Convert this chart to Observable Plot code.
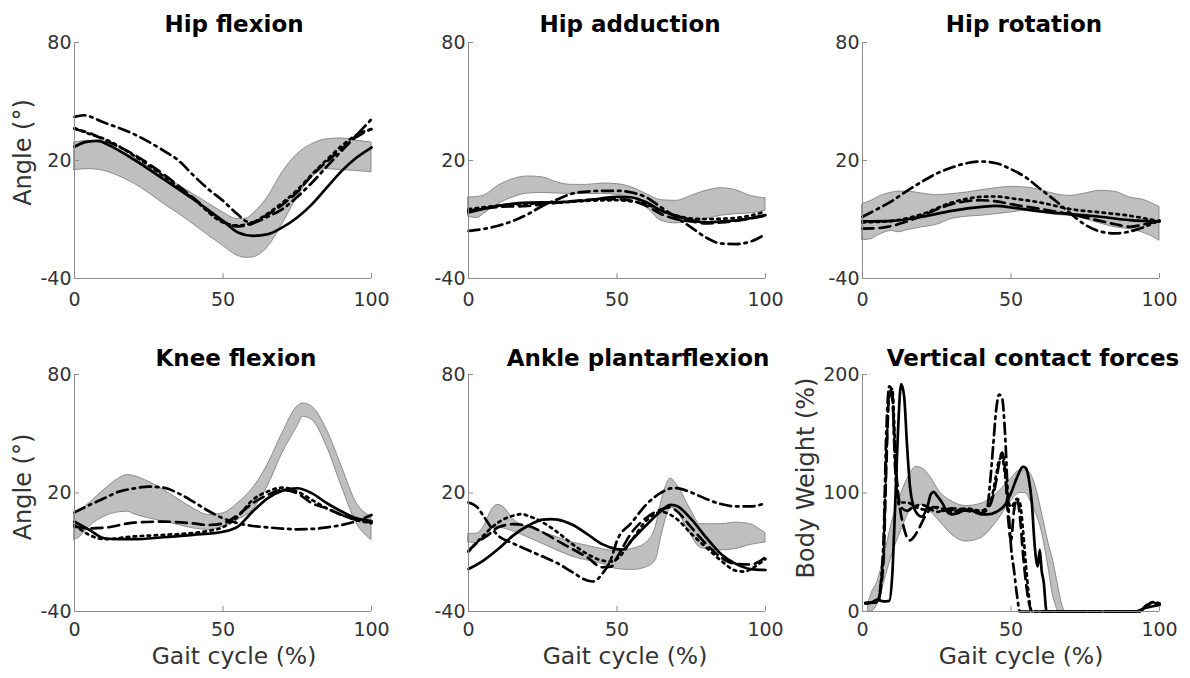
<!DOCTYPE html>
<html><head><meta charset="utf-8">
<script src="https://cdn.jsdelivr.net/npm/d3@7"></script>
<script src="https://cdn.jsdelivr.net/npm/@observablehq/plot@0.6"></script>
<style>
html,body{margin:0;padding:0;background:#fff;}
#chart{position:relative;width:1190px;height:678px;overflow:hidden;font-family:"DejaVu Sans",sans-serif;}
#chart svg{position:absolute;overflow:visible;}
</style></head><body><div id="chart"></div>
<script>
// ---------- Titles / labels ----------
const titles = ["Hip flexion","Hip adduction","Hip rotation","Knee flexion","Ankle plantarflexion","Vertical contact forces"];
const yLabels = ["Angle (°)","","","Angle (°)","","Body Weight (%)"];
const xLabel = "Gait cycle (%)";
const xTicks = [0, 50, 100];
const angleTicks = [-40, 20, 80];
const forceTicks = [0, 100, 200];

// ---------- Hip flexion ----------  band rows: [x, low, high]
const hipFlexBand = [[0,15.1,29.2],[5,15.6,30],[10,14.7,28.3],[15,12,25],[20,8.3,21.5],[25,3.5,17],[30,-2,12.2],[35,-7,7.5],[40,-12.4,2.9],[45,-18,-1.8],[50,-23.4,-6.4],[55,-28.5,-9.8],[58,-29.5,-9.5],[60,-29.3,-7.3],[65,-24.2,1.2],[70,-12.4,13.9],[75,1.2,23.2],[80,11.4,28.3],[85,15.6,30.8],[90,15.1,31.2],[95,14.7,30],[100,14,29.2]];
const hipFlexSolid = [[0,27],[4,29.5],[8,30],[12,27.5],[20,20.5],[30,10.5],[40,0.3],[50,-10.7],[55,-16.6],[60,-18.3],[65,-17.5],[70,-14],[75,-9],[80,-2.2],[85,6.3],[90,14.7],[95,21.5],[100,26.6]];
const hipFlexDashed = [[0,36],[5,34],[10,30.5],[20,23],[30,13],[40,1],[50,-11],[55,-13.5],[60,-12],[65,-7.5],[70,-2.5],[75,4],[80,12.5],[85,19.5],[90,26],[95,32],[100,36]];
const hipFlexDotted = [[0,36.5],[5,33.5],[10,31],[20,22.5],[30,12],[40,0.5],[50,-11.5],[55,-13],[60,-11.5],[65,-7],[70,-1.5],[75,5],[80,13],[85,20.5],[90,27.5],[95,33],[100,36]];
const hipFlexDashDot = [[0,42.2],[3,43],[10,39.3],[20,33.4],[30,25],[35,20],[40,12.5],[45,5.5],[50,-0.5],[55,-7.5],[58,-11],[60,-11.5],[65,-8.6],[70,-4.7],[75,1.5],[80,8.8],[85,17],[90,25],[95,33],[100,41]];

// ---------- Hip adduction ----------
const hipAddBand = [[0,-8.6,1.2],[3,-9.3,1.5],[5,-7.3,2],[10,-2.2,7.1],[15,1.2,10.5],[20,3.2,11.9],[25,3.5,11.4],[30,3.2,8.8],[35,3,7.6],[40,3,7.6],[45,3,8.3],[50,2.5,8],[55,1.2,6.3],[60,-3.9,2.9],[65,-10.7,-0.2],[70,-12,-0.5],[75,-10.7,2],[80,-9.8,4.6],[85,-8.1,5.9],[90,-7.3,4.9],[95,-6.9,2],[100,-5.6,0.8]];
const hipAddSolid = [[0,-6.4],[10,-3.1],[20,-1.4],[30,-1.2],[40,-0.2],[50,1.5],[55,1.2],[60,-1.4],[65,-5.6],[70,-8.1],[75,-10.3],[80,-11.5],[85,-11],[90,-10.5],[95,-9.3],[100,-7.8]];
const hipAddDashed = [[0,-5.6],[10,-3.6],[20,-3.1],[30,-1.4],[40,0],[45,0.3],[50,0.3],[55,-0.5],[60,-3.1],[65,-7.3],[70,-9.8],[75,-11],[80,-12],[85,-11.5],[90,-10.7],[95,-9.5],[100,-8.1]];
const hipAddDotted = [[0,-4.7],[10,-3],[20,-2],[30,-1.5],[40,-0.5],[50,-0.2],[55,-0.8],[60,-2.2],[65,-5.6],[70,-8],[75,-9.5],[80,-9.8],[85,-9.6],[90,-9.2],[95,-8],[100,-5.9]];
const hipAddDashDot = [[0,-15.8],[10,-13.2],[20,-7.3],[25,-3],[30,0.3],[35,3.2],[40,4.2],[45,4.6],[50,4.6],[55,3.7],[60,1.2],[65,-4],[70,-9],[75,-14],[80,-19.2],[85,-22.2],[90,-22.5],[95,-21.2],[100,-17.5]];

// ---------- Hip rotation ----------
const hipRotBand = [[0,-20.5,-2.2],[3,-20,-0.5],[5,-18.3,1.2],[10,-15.8,3.7],[12,-16.5,4.2],[15,-15.5,4.2],[20,-14,3.2],[25,-12.7,2.4],[30,-9.8,2.9],[35,-8.6,3.7],[40,-8.1,4.9],[45,-7.3,5.9],[50,-6.4,6.6],[55,-5.6,6.3],[60,-6.4,4.9],[65,-7.7,2.9],[70,-8.1,2],[75,-9.8,3.2],[80,-12,4.6],[85,-14,4.1],[90,-15,1.2],[95,-17,-0.2],[98,-19,-2.2],[100,-20.8,-3.6]];
const hipRotSolid = [[0,-11],[10,-10.7],[20,-8.6],[30,-5.6],[40,-3.6],[45,-3.1],[50,-3.9],[60,-5.9],[70,-7.3],[80,-8.6],[90,-10.3],[100,-11]];
const hipRotDashed = [[0,-14.6],[5,-14.4],[10,-13.2],[15,-11],[20,-8.1],[30,-2.2],[40,-0.2],[45,-0.8],[50,-2.2],[60,-4.7],[70,-7.3],[80,-10.7],[85,-12.4],[90,-13.7],[95,-12.4],[100,-10.7]];
const hipRotDotted = [[0,-11.5],[10,-10.7],[20,-7.3],[30,-1.4],[40,1.5],[45,1.7],[50,0.8],[60,-1.4],[70,-4.7],[80,-6.4],[90,-8.1],[100,-11]];
const hipRotDashDot = [[0,-8.6],[5,-4.7],[10,-0.5],[15,4.6],[20,9.2],[25,13.4],[30,16.4],[35,18.6],[40,19.5],[45,18.6],[50,15.6],[55,11.4],[60,5.4],[65,-0.5],[70,-6.9],[75,-12.7],[80,-16.1],[85,-17.1],[90,-16.1],[95,-13.7],[100,-10.5]];

// ---------- Knee flexion ----------
const kneeBand = [[0,-3.8,9.7],[2,-2,11.5],[5,2.9,14.8],[10,8,21.6],[15,10.2,27.4],[18,10.5,29.1],[20,9.3,28.6],[25,7.2,25.7],[30,5.5,21.6],[35,3.8,16.8],[40,2.1,12.2],[45,1.3,8.9],[50,3,9.7],[55,6.3,14.8],[60,11.4,22.3],[65,23.2,34.2],[70,40.1,50.2],[75,53.5,63.7],[77,58.6,65.3],[80,57,63.7],[85,43.4,51.9],[90,23.2,33.3],[95,4.6,14.8],[100,-3.8,8]];
const kneeSolid = [[0,5.5],[5,1.3],[10,-2.9],[15,-3.4],[20,-3.4],[30,-2.4],[40,-1.2],[50,0.4],[55,3],[60,10.6],[65,17.3],[70,21.2],[75,22.4],[80,19.8],[85,14.8],[90,10.6],[95,7.2],[100,5.8]];
const kneeDashed = [[0,3],[5,2.1],[10,2.4],[20,5],[30,5.5],[40,4.6],[45,3.8],[50,4.6],[55,8.9],[60,14.8],[65,19],[70,21.5],[75,19.8],[80,14.8],[85,12.2],[90,8.9],[95,6.3],[100,5.2]];
const kneeDotted = [[0,3.8],[5,-1.2],[10,-3.4],[20,-2],[30,-1.2],[40,-0.2],[45,0.8],[50,2.7],[55,8],[60,16.5],[65,20.7],[70,22.7],[75,20.7],[80,16.5],[85,12.2],[90,8.9],[95,6.3],[100,4.7]];
const kneeDashDot = [[0,10.2],[5,13.9],[10,17.3],[15,20.7],[20,22.3],[25,23.2],[30,22.7],[35,19.8],[40,15.6],[45,11],[50,7.2],[55,4.7],[60,3.3],[65,2.6],[70,2],[75,1.6],[80,1.8],[85,2.6],[90,3.8],[95,5.8],[100,8.9]];

// ---------- Ankle plantarflexion ----------
const ankleBand = [[0,-5,-0.8],[3,-5.3,-0.5],[5,-3.3,2.6],[8,1.8,11.8],[10,2.6,14],[12,2,12.6],[15,0.6,6.8],[20,-2.5,2.6],[25,-5.8,0.1],[30,-9.2,-2.5],[35,-12.2,-5],[40,-14.2,-6.7],[45,-15.9,-8.4],[50,-18.5,-9.5],[55,-19,-8.4],[60,-17.6,-5],[63,-14.2,2.6],[65,-1.6,16],[67,9.4,25.3],[68,12.7,27.3],[70,11,24.5],[75,-1.6,11],[78,-7.6,4.2],[80,-8.4,4.2],[85,-9,4.2],[90,-8.4,5],[95,-6.3,4.2],[98,-5.5,1.7],[100,-5,-0.3]];
const ankleSolid = [[0,-18.5],[5,-14.2],[10,-8.4],[15,-1.6],[20,3.4],[25,6.5],[28,6.8],[30,6.5],[35,3.9],[40,-0.8],[45,-5.9],[50,-8.4],[52,-8.6],[55,-3.8],[60,3.9],[65,11],[68,14],[70,13.5],[75,6.8],[80,-2.5],[85,-10.9],[90,-15.9],[95,-18.5],[100,-19]];
const ankleDashed = [[0,-9.2],[3,-5],[7,-0.8],[10,2.6],[15,4.2],[20,3.4],[25,0.1],[30,-4.2],[35,-8.4],[40,-12.6],[45,-17.6],[48,-17.3],[50,-12.6],[55,0.1],[60,7.6],[65,11.8],[68,12.7],[70,11],[75,2.6],[80,-5.8],[85,-12.6],[90,-15.9],[95,-16.2],[100,-12.6]];
const ankleDotted = [[0,-9.7],[5,-1.6],[10,5.1],[15,8.5],[18,9.3],[20,8.5],[25,5.1],[30,0.1],[35,-5.9],[40,-10.9],[45,-14.2],[48,-14.7],[50,-13.4],[55,-3.8],[60,6.2],[65,10.4],[70,7],[75,-0.6],[80,-7.5],[85,-14.2],[90,-19.3],[93,-19.8],[95,-18.5],[100,-13.4]];
const ankleDashDot = [[0,15.2],[3,12.7],[5,8.5],[8,1.8],[10,-1.6],[15,-5.5],[20,-8.9],[25,-12.2],[30,-15.6],[35,-20.1],[40,-24.3],[42,-24.8],[45,-21],[48,-13.4],[50,-4.2],[55,5.1],[60,14.4],[65,20.3],[68,22.3],[70,22.5],[75,20.3],[80,17],[85,14.4],[90,13.2],[95,13.2],[100,14.9]];

// ---------- Vertical contact forces ----------
const forceBand = [[2,0,7],[3,0,15],[5,6,25],[8,31,54],[10,48,76],[13,68,99],[16,85,116],[18,90,122],[20,90,121],[23,84,113],[26,76,101],[30,65,93],[35,59,89],[40,62,91],[45,75,99],[50,93,112],[53,100,119],[55,100,119],[56,96,118],[58,85,108],[60,71,88],[63,31,54],[64,15,45],[65,6,33],[66,0,20],[67,0,8],[68,0,0]];
const forceSolid = [[1,7],[3,7.5],[5,10],[7,8.5],[9,9],[10,30],[11,90],[12,155],[13,192],[14,182],[15,140],[16,105],[17,90],[18,84],[20,80],[22,90],[23,99],[24,101],[25,98],[27,91],[28,86],[30,82],[32,83],[35,86],[38,84],[40,82],[42,82],[45,84],[48,90],[50,100],[52,113],[54,122],[55,121],[56,112],[57,92],[58,55],[59,38],[59.7,52],[60.3,35],[61,25],[62,0],[92,0],[95,3],[97,4],[100,5.5]];
const forceDashed = [[1,7],[5,8],[7,40],[8,120],[9,185],[10,180],[11,130],[12,100],[14,70],[16,60],[17,62],[19,70],[21,80],[24,88],[27,85],[30,86],[35,85],[40,83],[43,90],[45,110],[46,125],[47,134],[48,120],[49,80],[50,60],[51,85],[52,95],[53,80],[54,50],[55,25],[56,8],[57,0],[93,0],[96,5],[98,7],[100,6]];
const forceDotted = [[1,7],[5,8],[7,45],[8,130],[9,183],[10,188],[11,140],[12,96],[13,92],[15,92],[18,88],[21,86],[25,88],[30,84],[35,87],[40,85],[43,92],[45,115],[46,128],[47,130],[48,115],[49,95],[50,88],[52,95],[53,92],[54,70],[55,40],[57,0],[93,0],[96,6],[98,8],[100,7]];
const forceDashDot = [[1,7],[5,8],[7,55],[8,150],[9,190],[10,186],[11,120],[12,92],[13,88],[15,85],[17,88],[20,90],[22,88],[25,84],[28,86],[30,87],[35,86],[40,84],[42,88],[43,110],[44,140],[45,170],[46,183],[47,180],[48,150],[49,95],[50,55],[51,35],[52,14],[53,0],[93,0],[96,6],[98,7.5],[100,6]];

// ---------- assembly ----------
const panelData = [
  {band: hipFlexBand, solid: hipFlexSolid, dashed: hipFlexDashed, dotted: hipFlexDotted, dashdot: hipFlexDashDot, yDomain: [-40, 80], yTicks: angleTicks},
  {band: hipAddBand, solid: hipAddSolid, dashed: hipAddDashed, dotted: hipAddDotted, dashdot: hipAddDashDot, yDomain: [-40, 80], yTicks: angleTicks},
  {band: hipRotBand, solid: hipRotSolid, dashed: hipRotDashed, dotted: hipRotDotted, dashdot: hipRotDashDot, yDomain: [-40, 80], yTicks: angleTicks},
  {band: kneeBand, solid: kneeSolid, dashed: kneeDashed, dotted: kneeDotted, dashdot: kneeDashDot, yDomain: [-40, 80], yTicks: angleTicks},
  {band: ankleBand, solid: ankleSolid, dashed: ankleDashed, dotted: ankleDotted, dashdot: ankleDashDot, yDomain: [-40, 80], yTicks: angleTicks},
  {band: forceBand, solid: forceSolid, dashed: forceDashed, dotted: forceDotted, dashdot: forceDashDot, yDomain: [0, 200], yTicks: forceTicks}
];

// layout (positions/styles kept separate from data)
const layout = [
  {left: 0,   top: 0,   row: 0, titleDx: 11, yLabDx: -51, yLabDy: -8},
  {left: 394, top: 0,   row: 0, titleDx: 13},
  {left: 788, top: 0,   row: 0, titleDx: 13},
  {left: 0,   top: 332, row: 1, titleDx: 13, yLabDx: -51, yLabDy: -6, xLabDx: 11},
  {left: 394, top: 332, row: 1, titleDx: 21, xLabDx: 8},
  {left: 788, top: 332, row: 1, titleDx: 22, yLabDx: -56, yLabDy: -15, xLabDx: 10}
];
const dashes = {solid: null, dashed: "11,6", dotted: "2.5,4.5", dashdot: "11,5,2.5,5"};
const axisGray = "#8c8c8c";
const textGray = "#333";

const chart = document.getElementById("chart");
panelData.forEach((p, i) => {
  const L = layout[i];
  const top = L.row === 0;
  const marks = [
    Plot.areaY(p.band.map(([x, lo, hi]) => ({x, lo, hi})), {x: "x", y1: "lo", y2: "hi", curve: "monotone-x", fill: "#bfbfbf", stroke: "#777", strokeWidth: 0.8}),
    ...["dashdot", "dashed", "dotted", "solid"].map(k =>
      Plot.line(p[k].map(([x, y]) => ({x, y})), {x: "x", y: "y", curve: "monotone-x", stroke: "black", strokeWidth: 2.7, strokeDasharray: dashes[k]})
    ),
    Plot.ruleX([0], {stroke: axisGray, strokeWidth: 1}),
    Plot.ruleY([p.yDomain[0]], {stroke: axisGray, strokeWidth: 1}),
    Plot.axisX({ticks: xTicks, tickSize: -5, tickPadding: top ? 19 : 16, tickFormat: d => String(d), fontSize: 19, stroke: axisGray, fill: textGray, label: null}),
    Plot.axisY({ticks: p.yTicks, tickSize: -5, tickPadding: 8, tickFormat: d => String(d), fontSize: 19, stroke: axisGray, fill: textGray, label: null}),
    Plot.text([titles[i]], {text: d => d, frameAnchor: "top", lineAnchor: "bottom", dy: top ? -11 : -9, dx: L.titleDx, fontSize: 23, fontWeight: "bold", fill: "black"})
  ];
  if (yLabels[i]) marks.push(Plot.text([yLabels[i]], {text: d => d, frameAnchor: "left", rotate: -90, textAnchor: "middle", lineAnchor: "middle", dx: L.yLabDx, dy: L.yLabDy, fontSize: 24, fill: textGray}));
  if (!top) marks.push(Plot.text([xLabel], {text: d => d, frameAnchor: "bottom", lineAnchor: "bottom", dy: 52, dx: L.xLabDx, fontSize: 23.5, fill: textGray}));
  const svg = Plot.plot({
    width: 400,
    height: top ? 318 : 346,
    marginLeft: 74, marginRight: 29,
    marginTop: 42, marginBottom: top ? 40 : 67,
    x: {domain: [0, 100]},
    y: {domain: p.yDomain},
    style: {fontFamily: "DejaVu Sans, sans-serif", background: "transparent", overflow: "visible"},
    marks
  });
  svg.style.left = L.left + "px";
  svg.style.top = L.top + "px";
  chart.appendChild(svg);
});
</script></body></html>
